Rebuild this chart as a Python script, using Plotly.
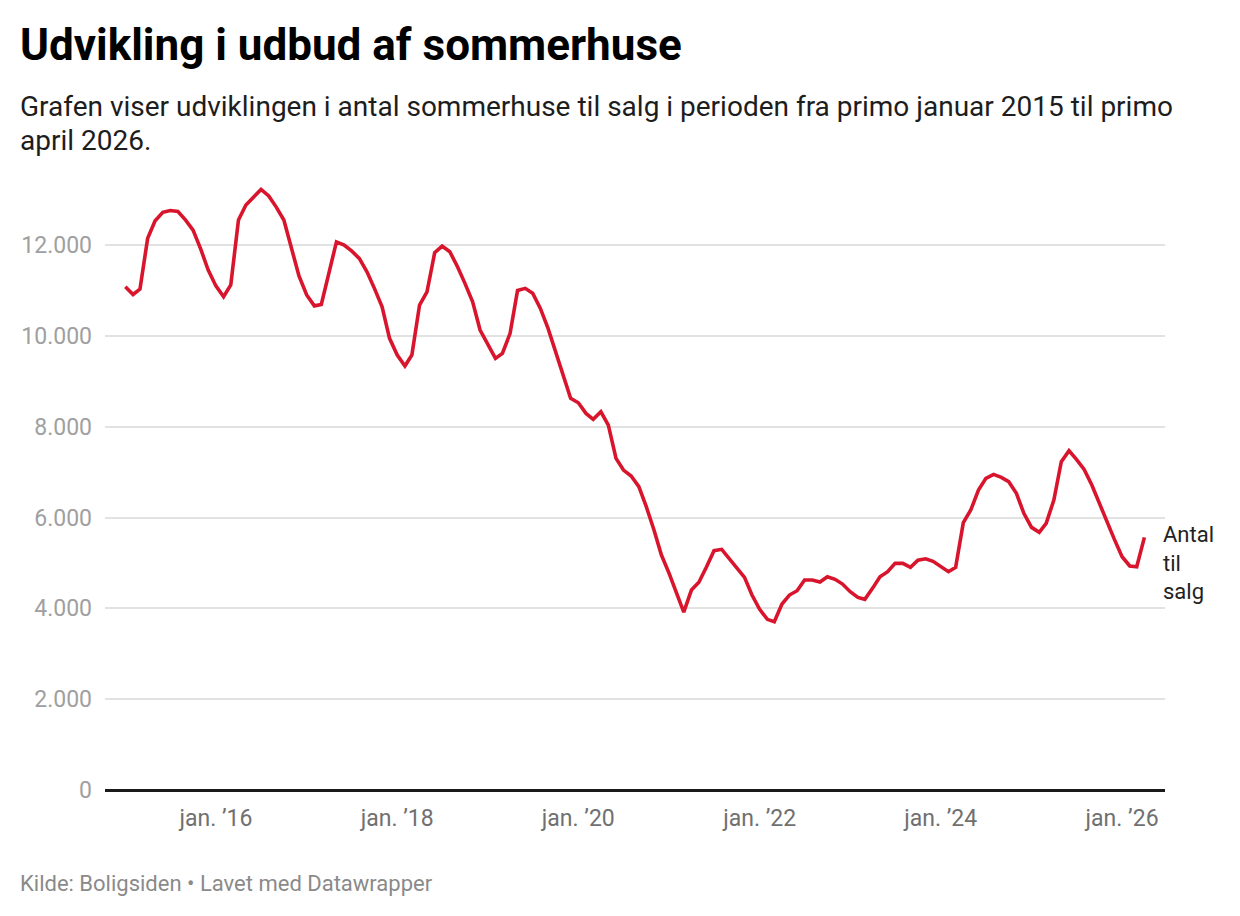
import plotly.graph_objects as go
import pandas as pd

# Monthly count of summer houses for sale, Jan 2015 - Apr 2026
start_month = "2015-01-01"
antal_til_salg = [
    11080, 10910, 11030, 12150, 12535, 12720, 12760, 12740, 12550, 12330, 11910, 11450,  # 2015
    11100, 10860, 11120, 12550, 12880, 13060, 13225, 13080, 12830, 12550, 11960, 11320,  # 2016
    10900, 10660, 10690, 11380, 12070, 12000, 11870, 11706, 11412, 11046, 10641, 9945,   # 2017
    9577, 9335, 9577, 10678, 10971, 11830, 11977, 11852, 11522, 11156, 10751, 10128,     # 2018
    9835, 9504, 9614, 10055, 11000, 11046, 10940, 10605, 10165, 9650, 9137, 8624,        # 2019
    8527, 8293, 8161, 8329, 8036, 7302, 7045, 6913, 6678, 6238, 5724, 5174,              # 2020
    4770, 4293, 3915, 4403, 4575, 4917, 5269, 5299, 5101, 4903, 4683, 4293,              # 2021
    3978, 3758, 3706, 4095, 4293, 4388, 4623, 4623, 4580, 4697, 4639, 4535,              # 2022
    4366, 4242, 4198, 4440, 4697, 4807, 4991, 4991, 4903, 5060, 5090, 5035,              # 2023
    4917, 4807, 4903, 5886, 6165, 6605, 6862, 6950, 6884, 6789, 6532, 6092,              # 2024
    5783, 5673, 5872, 6385, 7228, 7471, 7281, 7061, 6715, 6312, 5907, 5519,              # 2025
    5137, 4932, 4917, 5563,                                                              # 2026
]
dates = pd.date_range(start_month, periods=len(antal_til_salg), freq="MS")

series_label = "Antal<br>til<br>salg"
y_ticks = [0, 2000, 4000, 6000, 8000, 10000, 12000]
x_tick_dates = ["2016-01-01", "2018-01-01", "2020-01-01", "2022-01-01", "2024-01-01", "2026-01-01"]
x_tick_text = ["jan. ’16", "jan. ’18", "jan. ’20", "jan. ’22", "jan. ’24", "jan. ’26"]

title = "Udvikling i udbud af sommerhuse"
subtitle_1 = "Grafen viser udviklingen i antal sommerhuse til salg i perioden fra primo januar 2015 til primo"
subtitle_2 = "april 2026."
footer = "Kilde: Boligsiden • Lavet med Datawrapper"

# the page body adds an 8px offset; the figure is sized to fit the window
OFF = 8
W, H = 1240 - OFF, 916 - OFF
L, R, T, B = 105 - OFF, 75, 186 - OFF, 126
PW, PH = W - L - R, H - T - B

def px(screen_x):
    return (screen_x - OFF - L) / PW

def py(screen_y):
    return (H - B - (screen_y - OFF)) / PH

FONT = "Roboto"

fig = go.Figure()
fig.add_trace(go.Scatter(
    x=dates, y=antal_til_salg, mode="lines",
    line=dict(color="#d8152d", width=3.6),
    hoverinfo="skip", showlegend=False,
))

annotations = [
    dict(text=f"<b>{title}</b>", x=px(18), y=py(45), xanchor="left", yanchor="middle",
         font=dict(family=FONT, size=44, color="#000000")),
    dict(text=subtitle_1, x=px(18), y=py(107), xanchor="left", yanchor="middle",
         font=dict(family=FONT, size=28, color="#1d1d1d")),
    dict(text=subtitle_2, x=px(18), y=py(141), xanchor="left", yanchor="middle",
         font=dict(family=FONT, size=28, color="#1d1d1d")),
    dict(text=footer, x=px(18), y=py(883), xanchor="left", yanchor="middle",
         font=dict(family=FONT, size=22, color="#8a8a8a")),
    dict(text=series_label, xref="x", yref="y", x=dates[-1], y=antal_til_salg[-1],
         xanchor="left", yanchor="top", xshift=17, yshift=17, align="left",
         font=dict(family=FONT, size=22, color="#222222")),
]
for a in annotations:
    a.setdefault("xref", "paper")
    a.setdefault("yref", "paper")
    a["showarrow"] = False

fig.update_layout(
    width=W, height=H,
    margin=dict(l=L, r=R, t=T, b=B, pad=0),
    paper_bgcolor="white", plot_bgcolor="white",
    separators=",.",
    annotations=annotations,
    xaxis=dict(
        range=["2014-10-11", "2026-06-23"],
        tickvals=x_tick_dates, ticktext=x_tick_text,
        showgrid=False, zeroline=False, showline=False,
        ticks="", ticklabelstandoff=12,
        tickfont=dict(family=FONT, size=23, color="#707070"),
    ),
    yaxis=dict(
        range=[0, 13300],
        tickvals=y_ticks, tickformat=",d",
        showgrid=True, gridcolor="#e2e2e2", gridwidth=1.5,
        zeroline=True, zerolinecolor="#1a1a1a", zerolinewidth=2.5,
        showline=False, ticks="", ticklabelstandoff=12,
        tickfont=dict(family=FONT, size=23, color="#a0a0a0"),
    ),
)

fig.write_html("out.html")
